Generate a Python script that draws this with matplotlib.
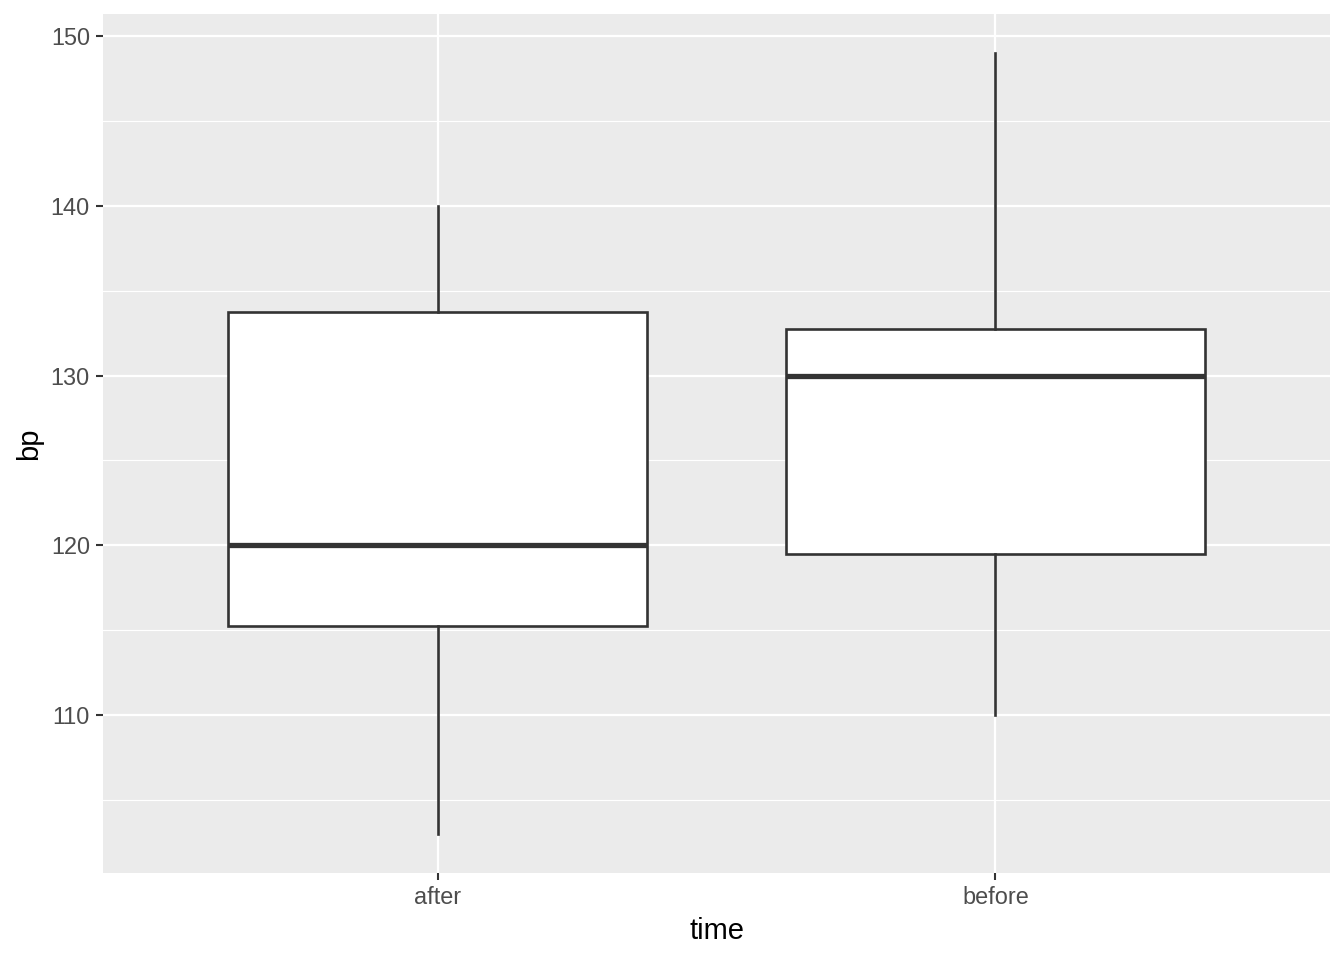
import matplotlib
matplotlib.use("Agg")
import matplotlib.pyplot as plt
from matplotlib.ticker import MultipleLocator

plt.rcParams["font.family"] = ["Liberation Sans", "DejaVu Sans"]

# ---------- data ----------
groups = ["after", "before"]
whisker_low = [103.0, 110.0]
q1 = [115.25, 119.5]
median = [120.0, 130.0]
q3 = [133.75, 132.75]
whisker_high = [140.0, 149.0]

# ---------- ggplot-ish styling ----------
bg = "#EBEBEB"
text_grey = "#4D4D4D"
line_col = "#333333"

fig = plt.figure(figsize=(13.44, 9.6), dpi=100)
ax = fig.add_axes([103 / 1344, 87 / 960, (1330 - 103) / 1344, (873 - 14) / 960])
ax.set_facecolor(bg)
for s in ax.spines.values():
    s.set_visible(False)

stats = []
for i, g in enumerate(groups):
    stats.append(dict(label=g, whislo=whisker_low[i], q1=q1[i], med=median[i],
                      q3=q3[i], whishi=whisker_high[i], fliers=[]))

pos = list(range(1, len(groups) + 1))
ax.bxp(stats, positions=pos, widths=0.75, showcaps=False, showfliers=False,
       patch_artist=True,
       boxprops=dict(facecolor="white", edgecolor=line_col, linewidth=1.9),
       whiskerprops=dict(color=line_col, linewidth=1.9),
       medianprops=dict(color=line_col, linewidth=3.8, solid_capstyle="butt"),
       zorder=3)

ax.set_xlim(0.4, 2.6)
lo = min(whisker_low)
hi = max(whisker_high)
pad = (hi - lo) * 0.05
ax.set_ylim(lo - pad, hi + pad)

ax.yaxis.set_major_locator(MultipleLocator(10))
ax.yaxis.set_minor_locator(MultipleLocator(5))
ax.set_xticks(pos)
ax.set_xticklabels(groups)

ax.grid(which="major", color="white", linewidth=1.6, zorder=0)
ax.grid(which="minor", axis="y", color="white", linewidth=0.8, zorder=0)
ax.set_axisbelow(True)

ax.tick_params(axis="both", which="major", colors="#333333", length=5.3, width=1.5,
               labelsize=16.9, labelcolor=text_grey, pad=4.2)
ax.tick_params(axis="both", which="minor", length=0)

ax.set_xlabel("time", fontsize=21, color="black", labelpad=5.3)
ax.set_ylabel("bp", fontsize=21, color="black", labelpad=5.3)

fig.savefig("out.png", dpi=100, facecolor="white")
